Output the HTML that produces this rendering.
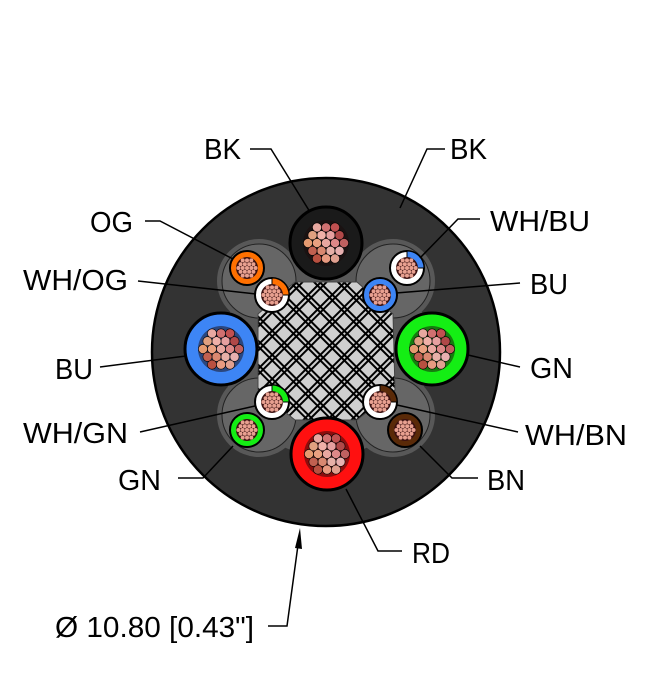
<!DOCTYPE html>
<html><head><meta charset="utf-8"><style>
html,body{margin:0;padding:0;background:#fff;}
svg{display:block}
text{font-family:"Liberation Sans Narrow","Liberation Sans",sans-serif;font-size:29px;fill:#000}
</style></head><body>
<svg width="653" height="700" viewBox="0 0 653 700" xmlns="http://www.w3.org/2000/svg">
<defs>
<pattern id="braid" width="17" height="17" patternUnits="userSpaceOnUse" patternTransform="rotate(45 326 352)">
<rect width="17" height="17" fill="#cfcfcf"/>
<rect x="0" y="0" width="2" height="17" fill="#000"/>
<rect x="4" y="0" width="2" height="17" fill="#000"/>
<rect x="0" y="0" width="17" height="2" fill="#000"/>
<rect x="0" y="4" width="17" height="2" fill="#000"/>
</pattern>
<g id="big">
<circle r="23" fill="#1a0a0a" opacity="0.5"/>
<circle cx="0" cy="0" r="4.6" fill="#e8a7a0" stroke="#000" stroke-width="0.6"/>
<circle cx="9" cy="0" r="4.6" fill="#d88" stroke="#000" stroke-width="0.6"/>
<circle cx="-9" cy="0" r="4.6" fill="#e9a080" stroke="#000" stroke-width="0.6"/>
<circle cx="4.5" cy="7.8" r="4.6" fill="#e7b0a8" stroke="#000" stroke-width="0.6"/>
<circle cx="-4.5" cy="7.8" r="4.6" fill="#d98870" stroke="#000" stroke-width="0.6"/>
<circle cx="4.5" cy="-7.8" r="4.6" fill="#e6a0a0" stroke="#000" stroke-width="0.6"/>
<circle cx="-4.5" cy="-7.8" r="4.6" fill="#f0b0a8" stroke="#000" stroke-width="0.6"/>
<circle cx="18" cy="0" r="4.6" fill="#c06060" stroke="#000" stroke-width="0.6"/>
<circle cx="-18" cy="0" r="4.6" fill="#e59a70" stroke="#000" stroke-width="0.6"/>
<circle cx="9" cy="15.6" r="4.6" fill="#e0a090" stroke="#000" stroke-width="0.6"/>
<circle cx="-9" cy="15.6" r="4.6" fill="#b85040" stroke="#000" stroke-width="0.6"/>
<circle cx="9" cy="-15.6" r="4.6" fill="#c05050" stroke="#000" stroke-width="0.6"/>
<circle cx="-9" cy="-15.6" r="4.6" fill="#e8a8a0" stroke="#000" stroke-width="0.6"/>
<circle cx="0" cy="15.6" r="4.6" fill="#e89a80" stroke="#000" stroke-width="0.6"/>
<circle cx="0" cy="-15.6" r="4.6" fill="#d07070" stroke="#000" stroke-width="0.6"/>
<circle cx="13.5" cy="7.8" r="4.6" fill="#e8b0b0" stroke="#000" stroke-width="0.6"/>
<circle cx="-13.5" cy="7.8" r="4.6" fill="#c06050" stroke="#000" stroke-width="0.6"/>
<circle cx="13.5" cy="-7.8" r="4.6" fill="#b04848" stroke="#000" stroke-width="0.6"/>
<circle cx="-13.5" cy="-7.8" r="4.6" fill="#e0a080" stroke="#000" stroke-width="0.6"/>
</g>
<g id="sm">
<circle r="11" fill="#3a1010"/>
<g fill="#e8a090">
<circle cx="0" cy="0" r="2"/><circle cx="4.3" cy="0" r="2"/><circle cx="-4.3" cy="0" r="2"/><circle cx="8.6" cy="0" r="2"/><circle cx="-8.6" cy="0" r="2"/>
<circle cx="2.15" cy="3.8" r="2"/><circle cx="-2.15" cy="3.8" r="2"/><circle cx="6.45" cy="3.8" r="2"/><circle cx="-6.45" cy="3.8" r="2"/>
<circle cx="2.15" cy="-3.8" r="2"/><circle cx="-2.15" cy="-3.8" r="2"/><circle cx="6.45" cy="-3.8" r="2"/><circle cx="-6.45" cy="-3.8" r="2"/>
<circle cx="0" cy="7.6" r="2"/><circle cx="4.3" cy="7.6" r="2"/><circle cx="-4.3" cy="7.6" r="2"/>
<circle cx="0" cy="-7.6" r="2"/><circle cx="4.3" cy="-7.6" r="2"/><circle cx="-4.3" cy="-7.6" r="2"/>
</g>
</g>
</defs>

<circle cx="326" cy="352" r="174" fill="#333" stroke="#000" stroke-width="2.5"/>
<g fill="#585858" stroke="#585858" stroke-width="8">
<circle cx="326" cy="352" r="100"/>
<circle cx="259" cy="281" r="38"/><circle cx="393" cy="281" r="38"/>
<circle cx="259" cy="415" r="38"/><circle cx="393" cy="415" r="38"/>
</g>
<g fill="#666" stroke="#222" stroke-width="1">
<circle cx="259" cy="281" r="37"/><circle cx="393" cy="281" r="37"/>
<circle cx="259" cy="415" r="37"/><circle cx="393" cy="415" r="37"/>
</g>
<path d="M295 282 L357 282 L393 314 L395 390 L357 420 L295 420 L258 390 L258 314 Z" fill="url(#braid)" stroke="#444" stroke-width="1" stroke-linejoin="round"/>

<circle cx="326" cy="243" r="36" fill="#1a1a1a" stroke="#000" stroke-width="3"/>
<use href="#big" x="326" y="243"/>
<circle cx="221" cy="349" r="36" fill="#3d85f5" stroke="#000" stroke-width="3"/>
<use href="#big" x="221" y="349"/>
<circle cx="432" cy="349" r="36" fill="#14ee14" stroke="#000" stroke-width="3"/>
<use href="#big" x="432" y="349"/>
<circle cx="327" cy="454" r="36" fill="#ff1010" stroke="#000" stroke-width="3"/>
<use href="#big" x="327" y="454"/>

<circle cx="247" cy="268" r="17" fill="#ff7000" stroke="#000" stroke-width="2"/><use href="#sm" x="247" y="268"/>
<circle cx="380" cy="295" r="17" fill="#3d85f5" stroke="#000" stroke-width="2"/><use href="#sm" x="380" y="295"/>
<circle cx="247" cy="430" r="17" fill="#14ee14" stroke="#000" stroke-width="2"/><use href="#sm" x="247" y="430"/>
<circle cx="405" cy="430" r="17" fill="#5a2a08" stroke="#000" stroke-width="2"/><use href="#sm" x="405" y="430"/>
<g stroke="#000" stroke-width="2">
<circle cx="272" cy="295" r="17" fill="#fff"/><path d="M272 295 L272 278 A17 17 0 0 1 289 295 Z" fill="#ff7000" stroke-width="1"/>
<circle cx="407" cy="268" r="17" fill="#fff"/><path d="M407 268 L407 251 A17 17 0 0 1 424 268 Z" fill="#3d85f5" stroke-width="1"/>
<circle cx="272" cy="402" r="17" fill="#fff"/><path d="M272 402 L272 385 A17 17 0 0 1 289 402 Z" fill="#14ee14" stroke-width="1"/>
<circle cx="380" cy="402" r="17" fill="#fff"/><path d="M380 402 L380 385 A17 17 0 0 1 397 402 Z" fill="#5a2a08" stroke-width="1"/>
</g>
<use href="#sm" x="272" y="295"/><use href="#sm" x="407" y="268"/>
<use href="#sm" x="272" y="402"/><use href="#sm" x="380" y="402"/>

<g fill="none" stroke="#000" stroke-width="1.5">
<polyline points="250,149 271,149 310,212"/>
<polyline points="445,149 427,149 400,208"/>
<polyline points="145,221 160,221 233,259"/>
<polyline points="480,219 458,219 420,258"/>
<line x1="138" y1="281" x2="256" y2="294"/>
<line x1="396" y1="293" x2="520" y2="283"/>
<line x1="100" y1="367" x2="186" y2="356"/>
<line x1="468" y1="355" x2="520" y2="367"/>
<line x1="140" y1="432" x2="255" y2="406"/>
<line x1="397" y1="405" x2="518" y2="432"/>
<polyline points="178,478 203,478 233,446"/>
<polyline points="420,446 452,478 478,478"/>
<polyline points="346,489 378,551 402,551"/>
<polyline points="268,626 287,626 298,545"/>
</g>
<path d="M300 528 L295 548 L302 549 Z" fill="#000"/>

<g>
<text x="204" y="159" textLength="37" lengthAdjust="spacingAndGlyphs">BK</text>
<text x="450" y="159" textLength="37" lengthAdjust="spacingAndGlyphs">BK</text>
<text x="90" y="232" textLength="43" lengthAdjust="spacingAndGlyphs">OG</text>
<text x="490" y="231" textLength="100" lengthAdjust="spacingAndGlyphs">WH/BU</text>
<text x="23" y="290" textLength="105" lengthAdjust="spacingAndGlyphs">WH/OG</text>
<text x="530" y="294" textLength="38" lengthAdjust="spacingAndGlyphs">BU</text>
<text x="55" y="379" textLength="38" lengthAdjust="spacingAndGlyphs">BU</text>
<text x="530" y="378" textLength="43" lengthAdjust="spacingAndGlyphs">GN</text>
<text x="23" y="443" textLength="105" lengthAdjust="spacingAndGlyphs">WH/GN</text>
<text x="525" y="445" textLength="102" lengthAdjust="spacingAndGlyphs">WH/BN</text>
<text x="118" y="490" textLength="43" lengthAdjust="spacingAndGlyphs">GN</text>
<text x="487" y="490" textLength="38" lengthAdjust="spacingAndGlyphs">BN</text>
<text x="412" y="563" textLength="38" lengthAdjust="spacingAndGlyphs">RD</text>
<text x="55" y="637" textLength="199" lengthAdjust="spacingAndGlyphs">Ø 10.80 [0.43"]</text>
</g>
</svg>
</body></html>
